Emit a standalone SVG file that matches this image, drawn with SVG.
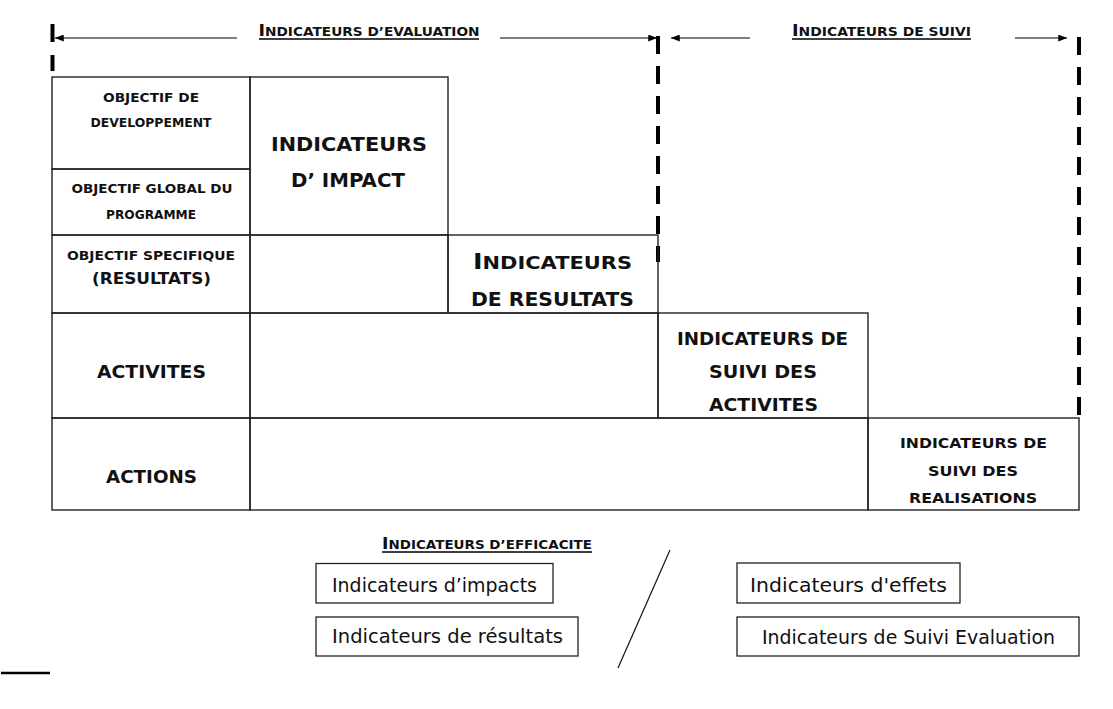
<svg xmlns="http://www.w3.org/2000/svg" width="1113" height="709" viewBox="0 0 1113 709">
<style>
.cell{fill:none;stroke:#222;stroke-width:1.4}
.box{fill:#fff;stroke:#222;stroke-width:1.3}
.b{font-family:"DejaVu Sans",sans-serif;font-weight:bold;fill:#111;text-anchor:middle}
.n{font-family:"DejaVu Sans",sans-serif;fill:#111;text-anchor:middle}
.dash{stroke:#000;stroke-width:4;stroke-dasharray:18 12;fill:none}
.arr{stroke:#000;stroke-width:1.2;fill:none}
.ul{stroke:#000;stroke-width:1.3}
</style>
<defs>
<marker id="ah" viewBox="0 0 10 8" refX="10" refY="4" markerWidth="9" markerHeight="7" markerUnits="userSpaceOnUse" orient="auto">
<path d="M0,0 L10,4 L0,8 Z" fill="#000"/>
</marker>
</defs>
<rect width="1113" height="709" fill="#fff"/>

<g id="connectors">
<line x1="52.5" y1="24" x2="52.5" y2="42" stroke="#000" stroke-width="4"/>
<line x1="52.5" y1="55" x2="52.5" y2="71" stroke="#000" stroke-width="4"/>
<line class="dash" x1="658" y1="36" x2="658" y2="262"/>
<line class="dash" x1="1079" y1="37" x2="1079" y2="418"/>
<line class="arr" x1="237" y1="38" x2="55" y2="38" marker-end="url(#ah)"/>
<line class="arr" x1="500" y1="38" x2="657" y2="38" marker-end="url(#ah)"/>
<line class="arr" x1="750" y1="38" x2="671" y2="38" marker-end="url(#ah)"/>
<line class="arr" x1="1015" y1="38" x2="1067" y2="38" marker-end="url(#ah)"/>
<line x1="670" y1="550" x2="618" y2="668" stroke="#111" stroke-width="1.2"/>
<line x1="1" y1="673" x2="50" y2="673" stroke="#000" stroke-width="2.5"/>
</g>

<g id="title-evaluation">
<text class="b" x="369" y="36" textLength="221" lengthAdjust="spacingAndGlyphs"><tspan font-size="16">I</tspan><tspan font-size="12.5">NDICATEURS D’EVALUATION</tspan></text>
<line class="ul" x1="259" y1="39" x2="479" y2="39"/>
</g>
<g id="title-suivi">
<text class="b" x="881.5" y="36" textLength="179" lengthAdjust="spacingAndGlyphs"><tspan font-size="16">I</tspan><tspan font-size="12.5">NDICATEURS DE SUIVI</tspan></text>
<line class="ul" x1="792" y1="39" x2="971" y2="39"/>
</g>

<g id="cell-dev">
<rect class="cell" x="52" y="77" width="198" height="92"/>
<text class="b" x="151" y="102" font-size="12.5" textLength="96" lengthAdjust="spacingAndGlyphs">OBJECTIF DE</text>
<text class="b" x="151" y="127" font-size="12.5" textLength="121" lengthAdjust="spacingAndGlyphs">DEVELOPPEMENT</text>
</g>
<g id="cell-global">
<rect class="cell" x="52" y="169" width="198" height="66"/>
<text class="b" x="152" y="193" font-size="12.5" textLength="161" lengthAdjust="spacingAndGlyphs">OBJECTIF GLOBAL DU</text>
<text class="b" x="151" y="219" font-size="12.5" textLength="90" lengthAdjust="spacingAndGlyphs">PROGRAMME</text>
</g>
<g id="cell-specifique">
<rect class="cell" x="52" y="235" width="198" height="78"/>
<text class="b" x="151" y="260" font-size="12.5" textLength="168" lengthAdjust="spacingAndGlyphs">OBJECTIF SPECIFIQUE</text>
<text class="b" x="151.5" y="284" font-size="16" textLength="119" lengthAdjust="spacingAndGlyphs">(RESULTATS)</text>
</g>
<g id="cell-impact">
<rect class="cell" x="250" y="77" width="198" height="158"/>
<text class="b" x="349" y="151" font-size="20" textLength="156" lengthAdjust="spacingAndGlyphs">INDICATEURS</text>
<text class="b" x="348" y="187" font-size="20" textLength="114" lengthAdjust="spacingAndGlyphs">D’ IMPACT</text>
</g>
<g id="cell-empty-1">
<rect class="cell" x="250" y="235" width="198" height="78"/>
</g>
<g id="cell-resultats">
<rect class="cell" x="448" y="235" width="210" height="78"/>
<text class="b" x="552.5" y="269" textLength="159" lengthAdjust="spacingAndGlyphs"><tspan font-size="22">I</tspan><tspan font-size="18">NDICATEURS</tspan></text>
<text class="b" x="552.5" y="306" font-size="20" textLength="163" lengthAdjust="spacingAndGlyphs">DE RESULTATS</text>
</g>
<g id="cell-activites">
<rect class="cell" x="52" y="313" width="198" height="105"/>
<text class="b" x="151.5" y="378" font-size="17" textLength="109" lengthAdjust="spacingAndGlyphs">ACTIVITES</text>
</g>
<g id="cell-empty-2">
<rect class="cell" x="250" y="313" width="408" height="105"/>
</g>
<g id="cell-suivi-activites">
<rect class="cell" x="658" y="313" width="210" height="105"/>
<text class="b" x="762.5" y="345" font-size="17" textLength="171" lengthAdjust="spacingAndGlyphs">INDICATEURS DE</text>
<text class="b" x="763" y="378" font-size="17" textLength="108" lengthAdjust="spacingAndGlyphs">SUIVI DES</text>
<text class="b" x="763.5" y="411" font-size="17" textLength="109" lengthAdjust="spacingAndGlyphs">ACTIVITES</text>
</g>
<g id="cell-actions">
<rect class="cell" x="52" y="418" width="198" height="92"/>
<text class="b" x="151.5" y="483" font-size="17" textLength="91" lengthAdjust="spacingAndGlyphs">ACTIONS</text>
</g>
<g id="cell-empty-3">
<rect class="cell" x="250" y="418" width="618" height="92"/>
</g>
<g id="cell-realisations">
<rect class="cell" x="868" y="418" width="211" height="92"/>
<text class="b" x="973.5" y="448" font-size="14" textLength="147" lengthAdjust="spacingAndGlyphs">INDICATEURS DE</text>
<text class="b" x="973" y="476" font-size="14" textLength="90" lengthAdjust="spacingAndGlyphs">SUIVI DES</text>
<text class="b" x="973" y="503" font-size="14" textLength="128" lengthAdjust="spacingAndGlyphs">REALISATIONS</text>
</g>

<g id="title-efficacite">
<text class="b" x="487" y="549" textLength="210" lengthAdjust="spacingAndGlyphs"><tspan font-size="16">I</tspan><tspan font-size="12.5">NDICATEURS D’EFFICACITE</tspan></text>
<line class="ul" x1="382" y1="552" x2="592" y2="552"/>
</g>

<g id="box-impacts">
<rect class="box" x="316" y="563.5" width="237" height="39.5"/>
<text class="n" x="434.5" y="592" font-size="19" textLength="205" lengthAdjust="spacingAndGlyphs">Indicateurs d’impacts</text>
</g>
<g id="box-resultats">
<rect class="box" x="316" y="617" width="262" height="39"/>
<text class="n" x="447.5" y="643" font-size="19" textLength="231" lengthAdjust="spacingAndGlyphs">Indicateurs de résultats</text>
</g>
<g id="box-effets">
<rect class="box" x="737" y="563" width="223" height="40"/>
<text class="n" x="848.5" y="592" font-size="19" textLength="197" lengthAdjust="spacingAndGlyphs">Indicateurs d'effets</text>
</g>
<g id="box-suivi-evaluation">
<rect class="box" x="737" y="617" width="342" height="39"/>
<text class="n" x="908.5" y="644" font-size="19" textLength="293" lengthAdjust="spacingAndGlyphs">Indicateurs de Suivi Evaluation</text>
</g>
</svg>
